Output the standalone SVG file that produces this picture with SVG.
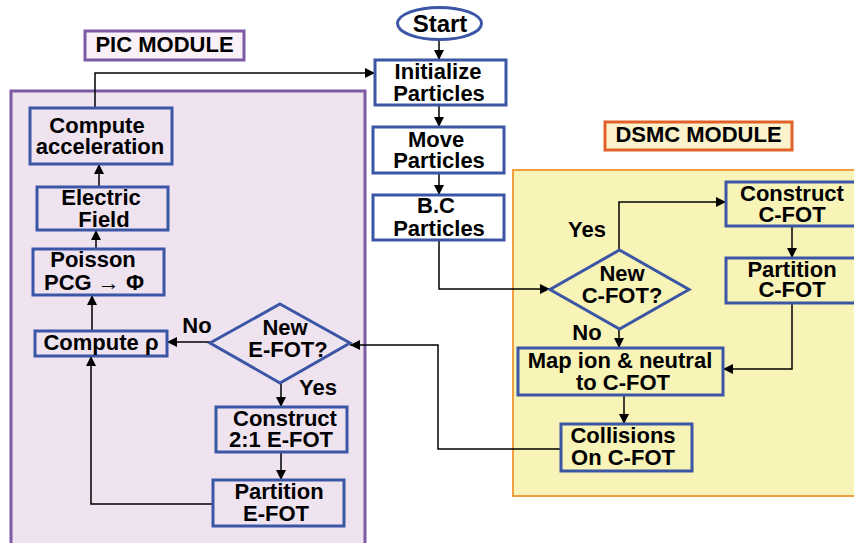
<svg xmlns="http://www.w3.org/2000/svg" width="854" height="543" viewBox="0 0 854 543">
  <defs>
    <marker id="arrow" viewBox="0 0 10 10" refX="10" refY="5" markerWidth="10" markerHeight="10" markerUnits="userSpaceOnUse" orient="auto">
      <path d="M0,0 L10,5 L0,10 Z" fill="#000"/>
    </marker>
    <style>
      .box { stroke: #3a56a5; stroke-width: 3; }
      .pic { fill: #efe3f0; }
      .dsmc { fill: #f8f3b6; }
      .plain { fill: #ffffff; }
      text { font-family: "Liberation Sans", Arial, sans-serif; font-weight: bold; font-size: 22px; fill: #000; text-anchor: middle; }
      .conn { fill: none; stroke: #000; stroke-width: 1.5; marker-end: url(#arrow); }
      .line { fill: none; stroke: #000; stroke-width: 1.5; }
    </style>
  </defs>

  <!-- module containers -->
  <g id="pic-module">
    <rect x="11" y="91" width="354" height="470" fill="#efe3f0" stroke="#7d5aa4" stroke-width="3"/>
    <rect x="85" y="31" width="159" height="29" fill="#f9f1f7" stroke="#7d5aa4" stroke-width="3"/>
    <text x="164.5" y="52">PIC MODULE</text>
  </g>
  <g id="dsmc-module">
    <rect x="513" y="170" width="360" height="326" fill="#f8f3b6" stroke="#f0a040" stroke-width="2"/>
    <rect x="605" y="122" width="187" height="28" fill="#fbf2cc" stroke="#e0622a" stroke-width="3"/>
    <text x="698.5" y="142">DSMC MODULE</text>
  </g>

  <!-- connectors -->
  <g id="connectors">
    <path class="conn" d="M439,40 V60"/>
    <path class="conn" d="M439,105 V127"/>
    <path class="conn" d="M439,173 V195"/>
    <path class="conn" d="M439,240 V289 H550"/>
    <path class="conn" d="M95,108 V73 H375"/>
    <path class="conn" d="M99,187 V164"/>
    <path class="conn" d="M96,249 V230"/>
    <path class="conn" d="M92,331 V295"/>
    <path class="conn" d="M210,342 H167"/>
    <path class="conn" d="M281,383 V407"/>
    <path class="conn" d="M281,452 V480"/>
    <path class="conn" d="M213,504 H91 V356"/>
    <path class="conn" d="M619,250 V202 H726"/>
    <path class="conn" d="M792,226 V258"/>
    <path class="conn" d="M619,329 V348"/>
    <path class="conn" d="M792,303 V369 H723"/>
    <path class="conn" d="M624,395 V424"/>
    <path class="conn" d="M561,449 H438 V345 H350"/>
  </g>

  <!-- main column -->
  <g id="start">
    <ellipse cx="439.5" cy="23.5" rx="42" ry="16" class="box plain"/>
    <text x="440" y="32" style="font-size:24px">Start</text>
  </g>
  <g id="initialize">
    <rect x="375" y="60" width="131" height="45" class="box plain"/>
    <text x="438" y="79">Initialize</text>
    <text x="439" y="101">Particles</text>
  </g>
  <g id="move">
    <rect x="373" y="127" width="131" height="46" class="box plain"/>
    <text x="436" y="147">Move</text>
    <text x="439" y="168">Particles</text>
  </g>
  <g id="bc">
    <rect x="373" y="195" width="131" height="45" class="box plain"/>
    <text x="436" y="213">B.C</text>
    <text x="439" y="236">Particles</text>
  </g>

  <!-- PIC nodes -->
  <g id="compute-acceleration">
    <rect x="30" y="108" width="142" height="56" class="box pic"/>
    <text x="97" y="133">Compute</text>
    <text x="100" y="154">acceleration</text>
  </g>
  <g id="electric-field">
    <rect x="37" y="187" width="131" height="43" class="box pic"/>
    <text x="101" y="205">Electric</text>
    <text x="104" y="227">Field</text>
  </g>
  <g id="poisson">
    <rect x="33" y="249" width="131" height="46" class="box pic"/>
    <text x="93" y="267">Poisson</text>
    <text x="94" y="290">PCG → Φ</text>
  </g>
  <g id="compute-rho">
    <rect x="35" y="331" width="132" height="25" class="box pic"/>
    <text x="101" y="350">Compute ρ</text>
  </g>
  <g id="new-efot">
    <polygon points="280,304 350,343 280,383 210,343" class="box pic"/>
    <text x="285" y="335">New</text>
    <text x="288" y="357">E-FOT?</text>
  </g>
  <g id="construct-efot">
    <rect x="216" y="407" width="131" height="45" class="box pic"/>
    <text x="285" y="426">Construct</text>
    <text x="281" y="447">2:1 E-FOT</text>
  </g>
  <g id="partition-efot">
    <rect x="213" y="480" width="131" height="46" class="box pic"/>
    <text x="279" y="499">Partition</text>
    <text x="276" y="521">E-FOT</text>
  </g>
  <g id="efot-labels">
    <text x="197" y="333">No</text>
    <text x="318" y="395">Yes</text>
  </g>

  <!-- DSMC nodes -->
  <g id="new-cfot">
    <polygon points="619.5,250 689,289.5 619.5,329 550,289.5" class="box dsmc"/>
    <text x="622" y="281">New</text>
    <text x="622" y="303">C-FOT?</text>
  </g>
  <g id="construct-cfot">
    <rect x="726" y="182" width="140" height="44" class="box dsmc"/>
    <text x="792" y="201">Construct</text>
    <text x="792" y="222">C-FOT</text>
  </g>
  <g id="partition-cfot">
    <rect x="726" y="258" width="140" height="45" class="box dsmc"/>
    <text x="792" y="277">Partition</text>
    <text x="792" y="297">C-FOT</text>
  </g>
  <g id="map">
    <rect x="518" y="348" width="205" height="47" class="box dsmc"/>
    <text x="620" y="368">Map ion &amp; neutral</text>
    <text x="623" y="390">to C-FOT</text>
  </g>
  <g id="collisions">
    <rect x="561" y="424" width="131" height="47" class="box dsmc"/>
    <text x="623" y="443">Collisions</text>
    <text x="623" y="465">On C-FOT</text>
  </g>
  <g id="cfot-labels">
    <text x="587" y="237">Yes</text>
    <text x="587" y="340">No</text>
  </g>
</svg>
